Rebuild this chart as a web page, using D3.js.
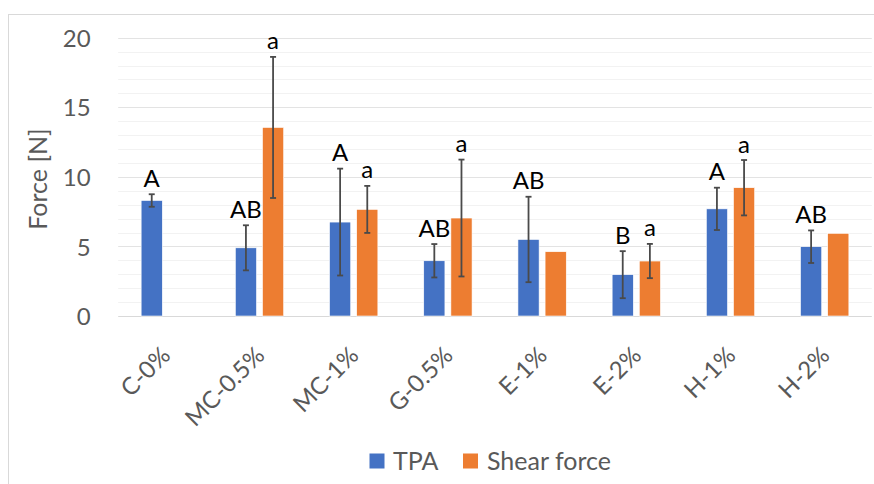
<!DOCTYPE html>
<html><head><meta charset="utf-8">
<script src="https://cdn.jsdelivr.net/npm/d3@7"></script>
<style>body{margin:0;background:#fff}svg{display:block}</style>
</head><body>
<script>
const categories = ["C-0%","MC-0.5%","MC-1%","G-0.5%","E-1%","E-2%","H-1%","H-2%"];
const seriesNames = ["TPA","Shear force"];
const tpa = [8.3, 4.9, 6.75, 3.97, 5.5, 2.97, 7.7, 4.98];
const tpaErr = [0.45, 1.62, 3.84, 1.2, 3.07, 1.69, 1.52, 1.17];
const shear = [null, 13.55, 7.66, 7.04, 4.62, 3.95, 9.22, 5.94];
const shearErr = [null, 5.07, 1.69, 4.2, null, 1.23, 1.99, null];
const tpaLetters = ["A","AB","A","AB","AB","B","A","AB"];
const shearLetters = ["","a","a","a","","a","a",""];
const yTicks = [0,5,10,15,20];

const W = 874, H = 484;
const colors = ["#4472C4","#ED7D31"];
const font = "Lato, 'Liberation Sans', sans-serif";
const svg = d3.select("body").append("svg").attr("width",W).attr("height",H);

// chart border
svg.append("rect").attr("x",8.5).attr("y",14.5).attr("width",W+20).attr("height",H+20)
  .attr("fill","#fff").attr("stroke","#d9d9d9").attr("stroke-width",1);

const plot = {l:118.2, r:871.8, t:37.7, b:316};
const y = d3.scaleLinear().domain([0,20]).range([plot.b, plot.t]);
const x0 = d3.scaleBand().domain(categories).range([plot.l, plot.r]).paddingInner(0.487).paddingOuter(0.2435);
const x1 = d3.scaleBand().domain(seriesNames).range([0, x0.bandwidth()]).paddingInner(0.22).paddingOuter(0);

// gridlines
const g = svg.append("g");
g.selectAll("line.minor").data(d3.range(0,21,1).filter(v=>v%5!==0)).join("line")
  .attr("x1",plot.l).attr("x2",plot.r).attr("y1",d=>Math.round(y(d))+0.5).attr("y2",d=>Math.round(y(d))+0.5)
  .attr("stroke","#f2f2f2").attr("stroke-width",1);
g.selectAll("line.major").data(yTicks).join("line")
  .attr("x1",plot.l).attr("x2",plot.r).attr("y1",d=>Math.round(y(d))+0.5).attr("y2",d=>Math.round(y(d))+0.5)
  .attr("stroke",d=>d===0?"#d9d9d9":"#e3e3e3").attr("stroke-width",d=>d===0?1.2:1);

// y axis labels
const yAxis = d3.axisLeft(y).tickValues(yTicks).tickSize(0).tickPadding(0);
const ya = svg.append("g").attr("transform",`translate(${plot.l-27.5},0)`).call(yAxis);
ya.select(".domain").remove();
ya.selectAll("text").attr("font-family",font).attr("font-size",24).attr("fill","#595959").attr("dy","0.36em");

// y title
svg.append("text").attr("transform",`translate(46.5,179) rotate(-90)`).attr("text-anchor","middle")
  .attr("font-family",font).attr("font-size",25).attr("fill","#595959").text("Force [N]");

// x labels
const xAxis = d3.axisBottom(x0).tickSize(0).tickPadding(0);
const xa = svg.append("g").attr("transform",`translate(0,${plot.b})`).call(xAxis);
xa.select(".domain").remove();
xa.selectAll(".tick text").attr("font-family",font).attr("font-size",24).attr("fill","#595959")
  .attr("text-anchor","end").attr("dy",0).attr("y",0)
  .attr("transform","translate(6.5,41) rotate(-45)");

// bars
const rows = categories.map((c,i)=>({c, vals:[
  {s:seriesNames[0], v:tpa[i], e:tpaErr[i], lab:tpaLetters[i], col:colors[0]},
  {s:seriesNames[1], v:shear[i], e:shearErr[i], lab:shearLetters[i], col:colors[1]}
]}));
const grp = svg.append("g").selectAll("g").data(rows).join("g")
  .attr("transform",d=>`translate(${x0(d.c)},0)`);
grp.selectAll("rect").data(d=>d.vals.filter(v=>v.v!=null)).join("rect")
  .attr("x",d=>x1(d.s)).attr("width",x1.bandwidth())
  .attr("y",d=>y(d.v)).attr("height",d=>y(0)-y(d.v)).attr("fill",d=>d.col)
  .attr("stroke","#fff").attr("stroke-width",0.6);

// error bars
const eb = grp.selectAll("g.err").data(d=>d.vals.filter(v=>v.v!=null && v.e!=null)).join("g").attr("class","err");
const cx = d=>x1(d.s)+x1.bandwidth()/2;
eb.append("line").attr("x1",cx).attr("x2",cx).attr("y1",d=>y(d.v+d.e)).attr("y2",d=>y(d.v-d.e));
eb.append("line").attr("x1",d=>cx(d)-3).attr("x2",d=>cx(d)+3).attr("y1",d=>y(d.v+d.e)).attr("y2",d=>y(d.v+d.e));
eb.append("line").attr("x1",d=>cx(d)-3).attr("x2",d=>cx(d)+3).attr("y1",d=>y(d.v-d.e)).attr("y2",d=>y(d.v-d.e));
eb.selectAll("line").attr("stroke","#4a4a4a").attr("stroke-width",1.8);

// letters
grp.selectAll("text.lab").data(d=>d.vals.filter(v=>v.lab)).join("text").attr("class","lab")
  .attr("x",cx).attr("y",d=>y(d.v+(d.e||0))-7.5).attr("text-anchor","middle")
  .attr("font-family",font).attr("font-size",24).attr("fill","#000").text(d=>d.lab);

// legend
const leg = svg.append("g");
leg.append("rect").attr("x",369.5).attr("y",453.5).attr("width",15).attr("height",15).attr("fill",colors[0]);
leg.append("text").attr("x",393).attr("y",470).attr("font-family",font).attr("font-size",25).attr("fill","#595959").text(seriesNames[0]);
leg.append("rect").attr("x",463).attr("y",453.5).attr("width",15).attr("height",15).attr("fill",colors[1]);
leg.append("text").attr("x",487).attr("y",470).attr("font-family",font).attr("font-size",25).attr("fill","#595959").text(seriesNames[1]);
</script>
</body></html>
